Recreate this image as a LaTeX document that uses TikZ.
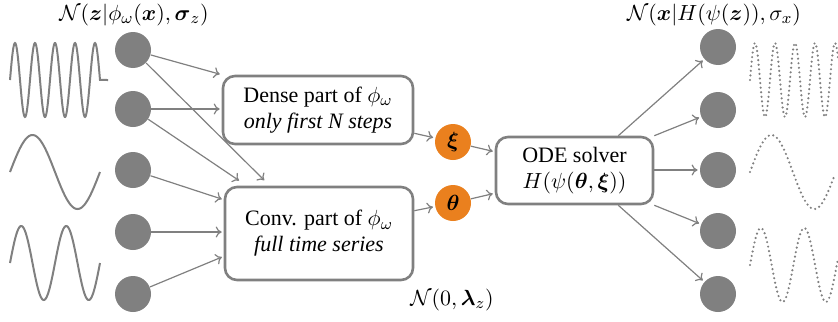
\documentclass[tikz,border=0pt]{standalone}
\usepackage{amsmath}
\usepackage{amssymb}
\usepackage{fontspec}
\setmainfont{Liberation Serif}
\usetikzlibrary{arrows.meta}
\definecolor{unitgray}{RGB}{128,128,128}
\definecolor{latentorange}{RGB}{234,128,30}

\begin{document}
\begin{tikzpicture}
        [
            x                  = 0.5pt,
            y                  = -0.5pt,
            boxed/.style       = {shape=rectangle, draw=unitgray, line width=1.3pt, rounded corners=6pt, align=center, fill=white},
            unit/.style        = {shape=circle, fill=unitgray, minimum size=18pt, inner sep=0pt},
            latent/.style      = {shape=circle, fill=latentorange, minimum size=18pt, inner sep=0pt},
            link/.style        = {draw=unitgray, line width=0.6pt, -{To[length=3pt,width=5.5pt]}, shorten >=1pt},
            signal/.style      = {draw=unitgray, line width=1pt},
            sampled/.style     = {signal, line width=1.2pt, line cap=round, dash pattern=on 0pt off 2.3pt},
            every node/.style  = {font=\fontsize{11}{13}\selectfont},
        ]
        \useasboundingbox (0,0) rectangle (838,321);

        \node [unit] (in1) at (133,50)  {};
        \node [unit] (in2) at (133,109) {};
        \node [unit] (in3) at (133,170) {};
        \node [unit] (in4) at (133,232) {};
        \node [unit] (in5) at (133,294) {};

        \node [unit] (out1) at (718,47)  {};
        \node [unit] (out2) at (718,110) {};
        \node [unit] (out3) at (718,170) {};
        \node [unit] (out4) at (718,231) {};
        \node [unit] (out5) at (718,294) {};

        \node [boxed, minimum width=95pt, minimum height=34pt] (dense) at (318,110)
            {Dense part of $\phi_\omega$\\ \textit{only first N steps}};
        \node [boxed, minimum width=94pt, minimum height=46.5pt] (conv) at (319,233.5)
            {Conv. part of $\phi_\omega$\\ \textit{full time series}};
        \node [boxed, minimum width=78.5pt, minimum height=33.5pt] (ode) at (574.5,170.5)
            {ODE solver\\ $H(\psi(\boldsymbol{\theta},\boldsymbol{\xi}))$};

        \node [latent] (xi)    at (453,142) {$\boldsymbol{\xi}$};
        \node [latent] (theta) at (453,203) {$\boldsymbol{\theta}$};

        \node (enclabel)   at (134,15)  {$\mathcal{N}(\boldsymbol{z}|\phi_\omega(\boldsymbol{x}),\boldsymbol{\sigma}_z)$};
        \node (declabel)   at (714,15)  {$\mathcal{N}(\boldsymbol{x}|H(\psi(\boldsymbol{z})),\sigma_x)$};
        \node (priorlabel) at (452,300) {$\mathcal{N}(0,\boldsymbol{\lambda}_z)$};

        \draw [link] (in1) -- (dense.north west);
        \draw [link] (in1) -- ([xshift=21pt,yshift=2pt]conv.north west);
        \draw [link] (in2) -- (in2 -| dense.west);
        \draw [link] (in2) -- ([xshift=8.5pt,yshift=2pt]conv.north west);
        \draw [link] (in3) -- ([yshift=-7pt]conv.north west);
        \draw [link] (in4) -- (in4 -| conv.west);
        \draw [link] (in5) -- ([yshift=12.5pt]conv.south west);

        \draw [link] ([yshift=6pt]dense.south east) -- (xi);
        \draw [link] ([yshift=-12.5pt]conv.north east) -- (theta);
        \draw [link] (xi) -- ([yshift=-8pt]ode.north west);
        \draw [link] (theta) -- ([yshift=6pt]ode.south west);

        \draw [link] ([xshift=-18pt]ode.north east) -- (out1);
        \draw [link] (ode.north east) -- (out2);
        \draw [link] (ode.east |- out3) -- (out3);
        \draw [link] (ode.south east) -- (out4);
        \draw [link] ([xshift=-18pt]ode.south east) -- (out5);

        \draw [signal] plot [domain=10:100, samples=200] (\x, {80-37*sin(18*(\x-10))}) -- (108,80);
        \draw [signal] plot [domain=10:100, samples=100] (\x, {172-37*sin(4*(\x-10))});
        \draw [signal] plot [domain=10:100, samples=150] (\x, {263-37*sin(8*(\x-10))});

        \draw [sampled] plot [domain=750:838, samples=200] (\x, {80-37*sin(18*(\x-750))});
        \draw [sampled] plot [domain=750:835, samples=100] (\x, {172-37*sin(4.2*(\x-750))});
        \draw [sampled] plot [domain=750:838, samples=150] (\x, {265-37*sin(8.3*(\x-750))});
\end{tikzpicture}
\end{document}
